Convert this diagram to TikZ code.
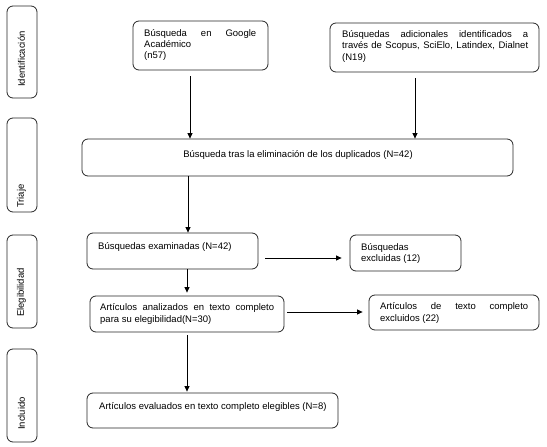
\documentclass[tikz,border=0pt]{standalone}
\usepackage{fontspec}
\setmainfont{Liberation Sans}
\usetikzlibrary{arrows.meta}
\begin{document}
\begin{tikzpicture}[x=1pt,y=-1pt,
  box/.style={draw=black!85, line width=0.8pt, rounded corners=6pt, inner sep=0pt, fill=white},
  side/.style={box},
  txt/.style={inner sep=0pt, anchor=base west, align=left, font=\fontsize{9.5}{#1}\selectfont},
  txt/.default=11,
  lab/.style={inner sep=0pt, anchor=west, rotate=90, font=\fontsize{9.5}{11}\selectfont},
  arr/.style={draw=black, line width=0.8pt, -{Triangle[length=5.5pt,width=5pt]}}]
\useasboundingbox (0,0) rectangle (547,447);
% side boxes
\node[side, minimum width=30pt, minimum height=92pt] (s1) at (22,52) {};
\node[side, minimum width=30pt, minimum height=94pt] (s2) at (22,165) {};
\node[side, minimum width=30pt, minimum height=93pt] (s3) at (22,281.5) {};
\node[side, minimum width=30pt, minimum height=93pt] (s4) at (22,395.5) {};
\node[lab] (l1) at (21.5,87) {Identificación};
\node[lab] (l2) at (21.5,208) {Triaje};
\node[lab] (l3) at (21.5,317) {Elegibilidad};
\node[lab] (l4) at (21.5,430) {Incluido};
% boxes
\node[box, minimum width=135pt, minimum height=49pt] (b1) at (200.5,45.5) {};
\node[box, minimum width=209pt, minimum height=49pt] (b2) at (434.5,47.5) {};
\node[box, minimum width=431pt, minimum height=37pt] (b3) at (297.5,157.5) {};
\node[box, minimum width=171pt, minimum height=36pt] (b4) at (172.5,251) {};
\node[box, minimum width=111pt, minimum height=36pt] (b5) at (405.5,253) {};
\node[box, minimum width=194pt, minimum height=36pt] (b6) at (187,314) {};
\node[box, minimum width=170pt, minimum height=35pt] (b7) at (454,312.5) {};
\node[box, minimum width=251pt, minimum height=35pt] (b8) at (212.5,410.5) {};
% texts (base anchor = baseline of last line)
\node[txt=10.5] (t1) at (144,58) {\makebox[112pt][s]{Búsqueda en Google}\\Académico\\(n57)};
\node[txt=11.5] (t2) at (342,60) {\makebox[186pt][s]{Búsquedas adicionales identificados a}\\\makebox[186pt][s]{través de Scopus, SciElo, Latindex, Dialnet}\\(N19)};
\node[txt, anchor=base] (t3) at (298,157) {Búsqueda tras la eliminación de los duplicados (N=42)};
\node[txt] (t4) at (98,249) {Búsquedas examinadas (N=42)};
\node[txt=11] (t5) at (361,261) {Búsquedas\\excluidas (12)};
\node[txt=12] (t6) at (100,322) {\makebox[174pt][s]{Artículos analizados en texto completo}\\para su elegibilidad(N=30)};
\node[txt=12.5] (t7) at (380,321.5) {\makebox[148pt][s]{Artículos de texto completo}\\excluidos (22)};
\node[txt] (t8) at (99,409) {Artículos evaluados en texto completo elegibles (N=8)};
% connector anchor points
\coordinate (a1s) at ([xshift=-10.5pt,yshift=-6pt]b1.south);
\coordinate (a2s) at ([xshift=-19.5pt,yshift=-6pt]b2.south);
\coordinate (a3s) at ([xshift=-109.5pt]b3.south);
\coordinate (a4s) at ([xshift=7pt,yshift=-7pt]b4.east);
\coordinate (a4e) at ([xshift=-8pt]b5.west);
\coordinate (a5s) at ([xshift=14.5pt]b4.south);
\coordinate (a5e) at ([yshift=3pt]b6.north);
\coordinate (a6s) at ([xshift=3pt,yshift=2pt]b6.east);
\coordinate (a6e) at ([xshift=-6pt]b7.west);
\coordinate (a7s) at ([yshift=-3pt]b6.south);
\coordinate (a7e) at ([yshift=1pt]b8.north);
% arrows
\draw[arr] (a1s) -- (a1s |- b3.north);
\draw[arr] (a2s) -- (a2s |- b3.north);
\draw[arr] (a3s) -- (a3s |- b4.north);
\draw[arr] (a4s) -- (a4e |- a4s);
\draw[arr] (a5s) -- (a5s |- a5e);
\draw[arr] (a6s) -- (a6e |- a6s);
\draw[arr] (a7s) -- (a7s |- a7e);
\end{tikzpicture}
\end{document}
